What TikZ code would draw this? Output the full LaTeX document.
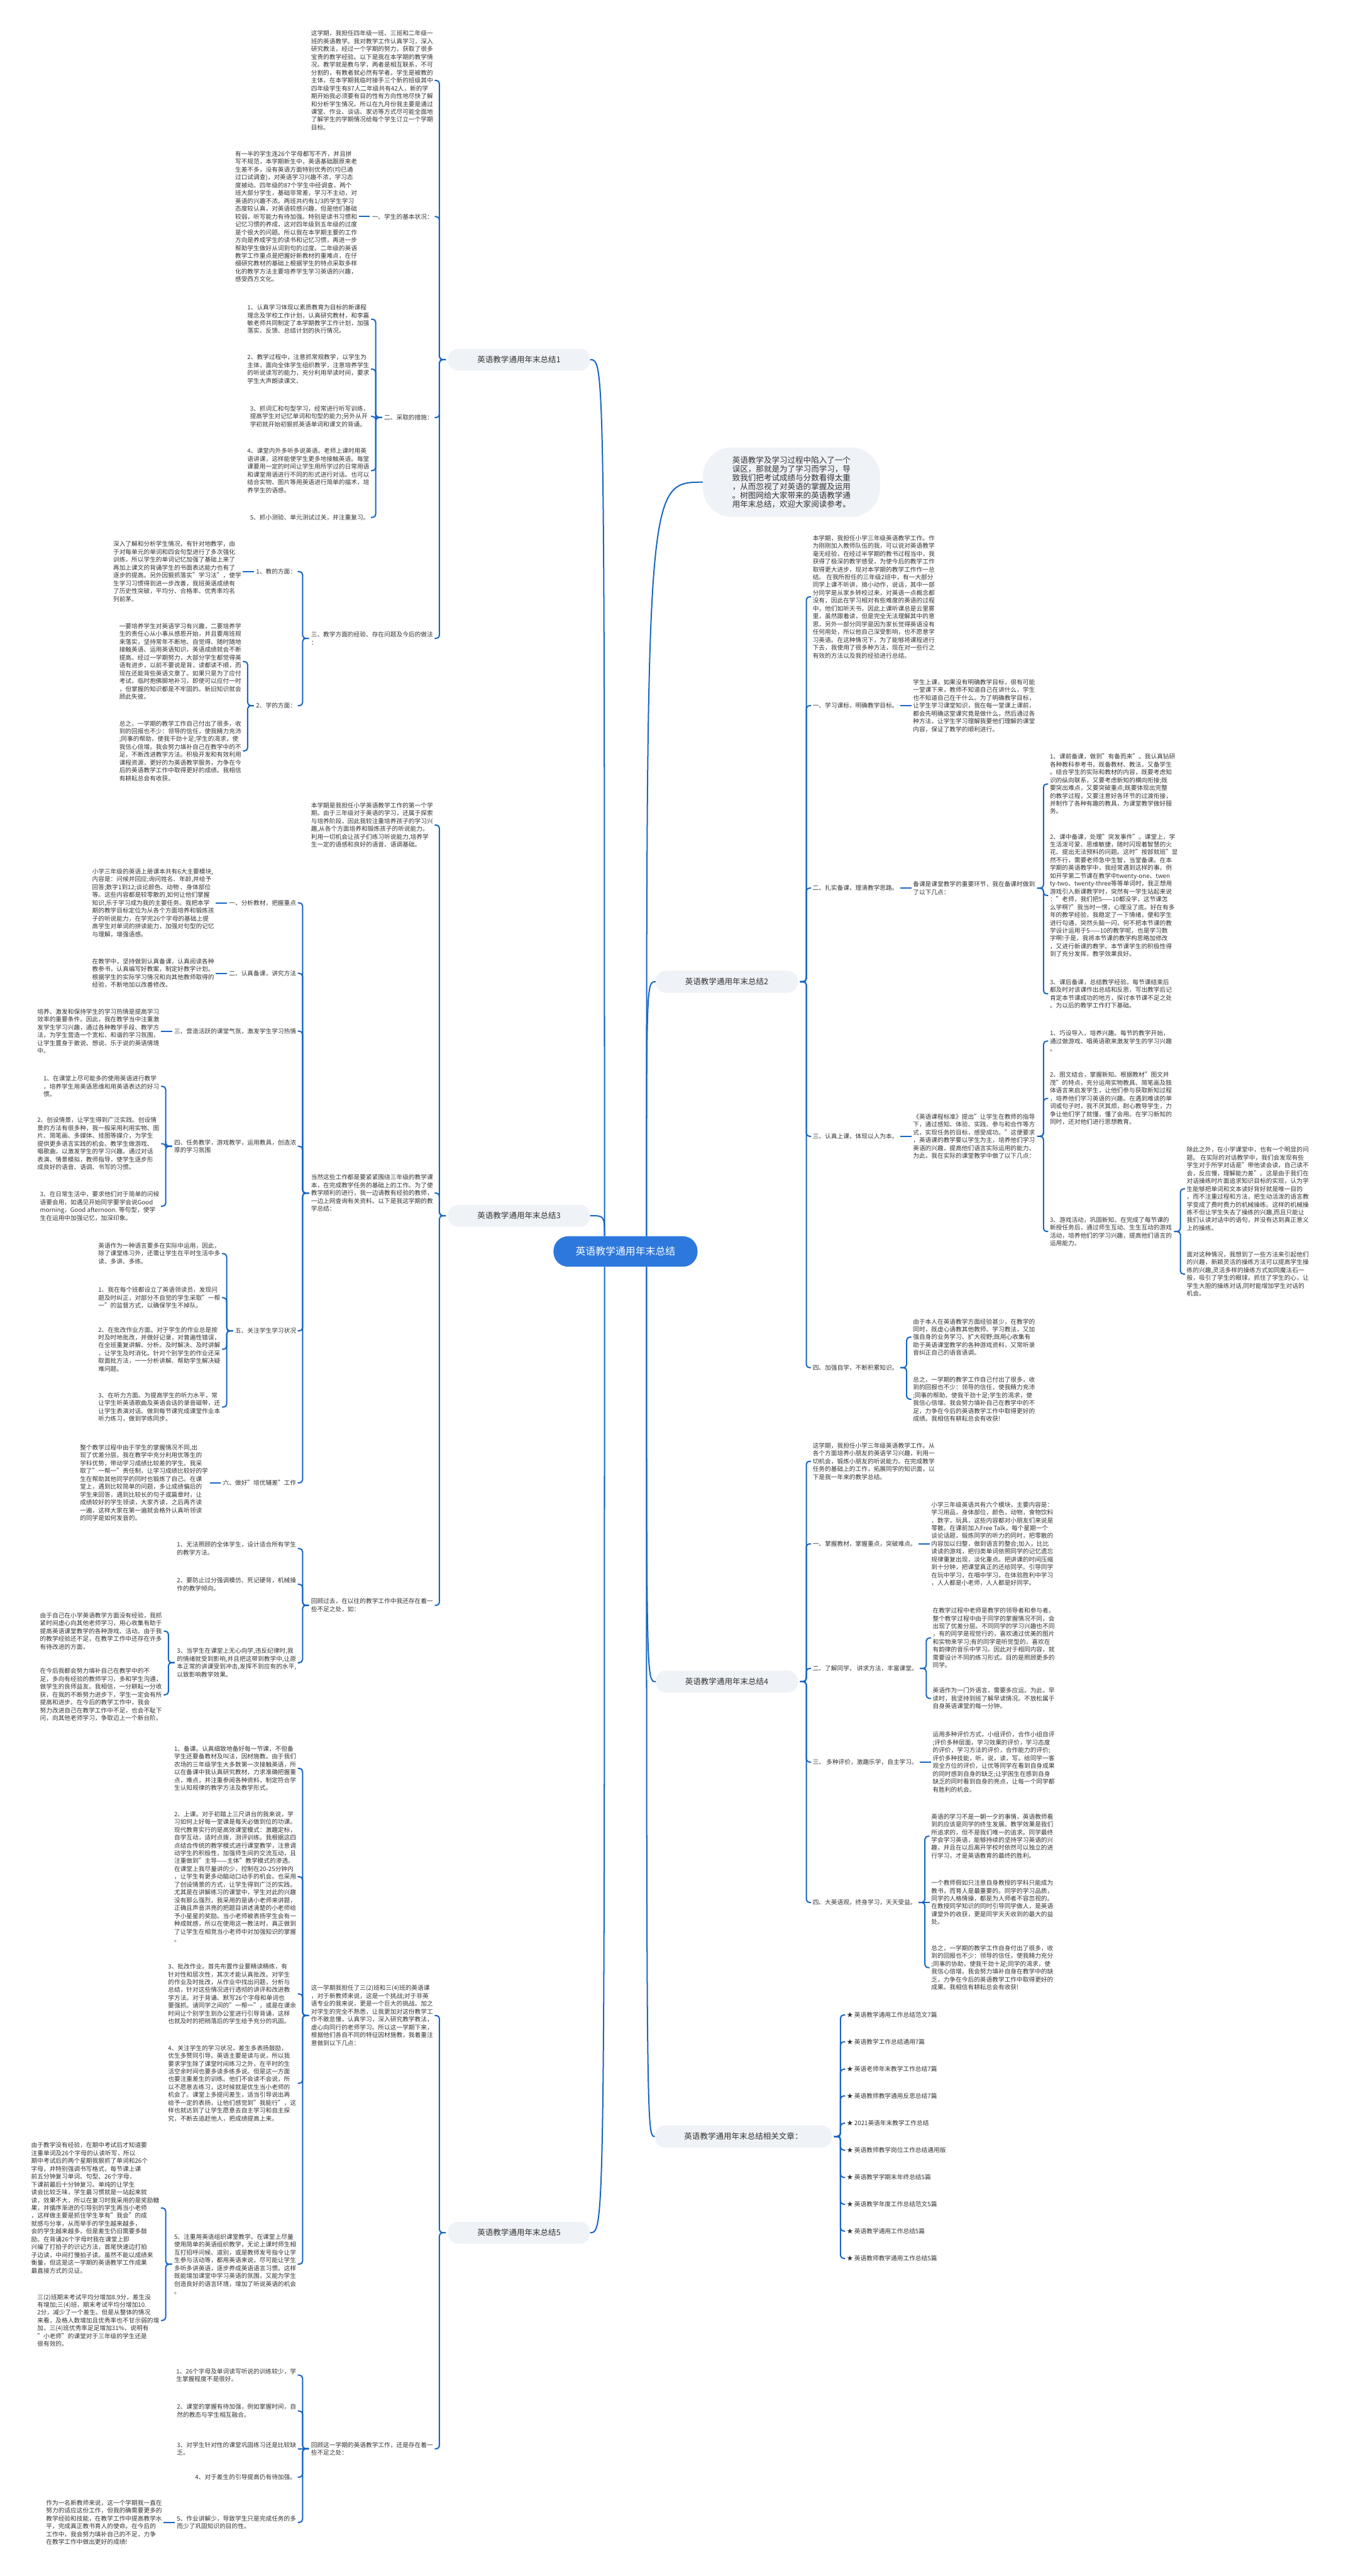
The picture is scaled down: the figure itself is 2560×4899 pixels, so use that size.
\documentclass[tikz,border=0pt]{standalone}
\usepackage{fontspec}
\setmainfont{Noto Sans CJK SC}
\definecolor{lineblue}{RGB}{24,102,196}
\definecolor{rootblue}{RGB}{45,120,220}
\definecolor{bubfill}{RGB}{239,242,246}
\definecolor{txt}{RGB}{51,51,51}
\tikzset{
 leaf/.style={font=\fontsize{11.6}{14.9}\selectfont, text=txt, align=left, inner sep=0pt},
 bub/.style={font=\fontsize{15}{17}\selectfont, text=txt, fill=bubfill, rounded corners=20pt, inner xsep=56pt, inner ysep=12pt, minimum height=42pt},
 intro/.style={font=\fontsize{15}{16.7}\selectfont, text=txt, fill=bubfill, align=left, rounded corners=55pt, inner xsep=56pt, inner ysep=17pt},
 rootbox/.style={font=\fontsize{19}{21}\selectfont, text=white, fill=rootblue, rounded corners=28pt, inner xsep=42pt, minimum height=58pt},
 conn/.style={draw=lineblue, line width=2.4pt, rounded corners=6pt},
}
% children on the left of a parent
\newcommand\Lkid[4]{\coordinate (ty) at (0,#3); \path ([xshift=-28pt]#1.west) coordinate (tx);
 \node[leaf,anchor=east] (#2) at (tx |- ty) {#4};
 \draw[conn] ([xshift=-4pt]#1.west) -- ([xshift=-16pt]#1.west) |- ([xshift=3pt]#2.east);}
\newcommand\Lone[3]{\node[leaf,anchor=east] (#2) at ([xshift=-28pt]#1.west) {#3};
 \draw[conn] ([xshift=-4pt]#1.west) -- ([xshift=3pt]#2.east);}
% children on the right of a parent
\newcommand\Rkid[4]{\coordinate (ty) at (0,#3); \path ([xshift=28pt]#1.east) coordinate (tx);
 \node[leaf,anchor=west] (#2) at (tx |- ty) {#4};
 \draw[conn] ([xshift=4pt]#1.east) -- ([xshift=16pt]#1.east) |- ([xshift=-3pt]#2.west);}
\newcommand\Rone[3]{\node[leaf,anchor=west] (#2) at ([xshift=28pt]#1.east) {#3};
 \draw[conn] ([xshift=4pt]#1.east) -- ([xshift=-3pt]#2.west);}
\begin{document}
\begin{tikzpicture}[x=1pt,y=-1pt]
\fill[white] (0,0) rectangle (2560,4899);
\useasboundingbox (0,0) rectangle (2560,4899);

% ---------- main nodes ----------
\node[rootbox] (root) at (1190,2380) {英语教学通用年末总结};
\node[bub,anchor=west] (B1) at (852,684) {英语教学通用年末总结1};
\node[bub,anchor=west] (B3) at (852,2312) {英语教学通用年末总结3};
\node[bub,anchor=west] (B5) at (852,4246) {英语教学通用年末总结5};
\node[bub,anchor=east] (B2) at (1518,1867) {英语教学通用年末总结2};
\node[bub,anchor=east] (B4) at (1518,3198) {英语教学通用年末总结4};
\node[bub,anchor=east] (rel) at (1583,4063) {英语教学通用年末总结相关文章：};
\node[intro,anchor=west] (intro) at (1337,917) {英语教学及学习过程中陷入了一个\\误区，那就是为了学习而学习，导\\致我们把考试成绩与分数看得太重\\，从而忽视了对英语的掌握及运用\\。树图网给大家带来的英语教学通\\用年末总结，欢迎大家阅读参考。};

\coordinate (rtl) at ([xshift=-40pt]root.north);
\coordinate (rtr) at ([xshift=40pt]root.north);
\coordinate (rbl) at ([xshift=-40pt]root.south);
\coordinate (rbr) at ([xshift=40pt]root.south);
\draw[conn] (rtl) .. controls (rtl |- B1.east) .. (B1.east);
\draw[conn] (rtl) .. controls (rtl |- B3.east) .. (B3.east);
\draw[conn] (rbl) .. controls (rbl |- B5.east) .. (B5.east);
\draw[conn] (rtr) .. controls (rtr |- intro.west) .. (intro.west);
\draw[conn] (rtr) .. controls (rtr |- B2.west) .. (B2.west);
\draw[conn] (rbr) .. controls (rbr |- B4.west) .. (B4.west);
\draw[conn] (rbr) .. controls (rbr |- rel.west) .. (rel.west);

% ---------- branch 1 ----------
\Lkid{B1}{b1a}{153}{这学期，我担任四年级一班、三班和二年级一\\班的英语教学。我对教学工作认真学习，深入\\研究教法，经过一个学期的努力，获取了很多\\宝贵的教学经验。以下是我在本学期的教学情\\况。教学就是教与学，两者是相互联系，不可\\分割的，有教者就必然有学者。学生是被教的\\主体，在本学期我临时接手三个新的班级其中\\四年级学生有87人二年级共有42人，新的学\\期开始我必须要有目的性有方向性地尽快了解\\和分析学生情况。所以在九月份我主要是通过\\课堂、作业、谈话、家访等方式尽可能全面地\\了解学生的学期情况给每个学生订立一个学期\\目标。}
\Lkid{B1}{b1s1}{412}{一、学生的基本状况：}
\Lone{b1s1}{b1s1p}{有一半的学生连26个字母都写不齐，并且拼\\写不规范，本学期新生中，英语基础跟原来老\\生差不多，没有英语方面特别优秀的(均已通\\过口试调查)，对英语学习兴趣不浓，学习态\\度被动。四年级的87个学生中经调查，两个\\班大部分学生，基础非常差，学习不主动，对\\英语的兴趣不浓。两班共约有1/3的学生学习\\态度较认真，对英语较感兴趣，但是他们基础\\较弱，听写能力有待加强。特别是读书习惯和\\记忆习惯的养成，这对四年级到五年级的过度\\是个很大的问题。所以我在本学期主要的工作\\方向是养成学生的读书和记忆习惯，再进一步\\帮助学生做好从词到句的过度。二年级的英语\\教学工作重点是把握好新教材的重难点，在仔\\细研究教材的基础上根据学生的特点采取多样\\化的教学方法主要培养学生学习英语的兴趣，\\感受西方文化。}
\Lkid{B1}{b1s2}{794}{二、采取的措施：}
\Lkid{b1s2}{b1i1}{607}{1、认真学习体现以素质教育为目标的新课程\\理念及学校工作计划，认真研究教材，和李嘉\\敏老师共同制定了本学期教学工作计划，加强\\落实、反馈、总结计划的执行情况。}
\Lkid{b1s2}{b1i2}{702}{2、教学过程中，注意抓常规教学，以学生为\\主体，面向全体学生组织教学，注意培养学生\\的听说读写的能力，充分利用早读时间，要求\\学生大声朗读课文、}
\Lkid{b1s2}{b1i3}{792}{3、抓词汇和句型学习，经常进行听写训练，\\提高学生对记忆单词和句型的能力;另外从开\\学初就开始初狠抓英语单词和课文的背诵。}
\Lkid{b1s2}{b1i4}{895}{4、课堂内外多听多说英语。老师上课时用英\\语讲课，这样能使学生更多地接触英语。每堂\\课要用一定的时间让学生用所学过的日常用语\\和课堂用语进行不同的形式进行对话。也可以\\结合实物、图片等用英语进行简单的描术，培\\养学生的语感。}
\Lkid{b1s2}{b1i5}{984}{5、抓小测验、单元测试过关，并注重复习。}
\Lkid{B1}{b1s3}{1214}{三、教学方面的经验、存在问题及今后的做法\\：}
\Lkid{b1s3}{b1t1}{1087}{1、教的方面：}
\Lone{b1t1}{b1t1p}{深入了解和分析学生情况，有针对地教学，由\\于对每单元的单词和四会句型进行了多次强化\\训练，所以学生的单词记忆加强了基础上来了\\再加上课文的背诵学生的书面表达能力也有了\\逐步的提高。另外因狠抓落实"学习法"，使学\\生学习习惯得到进一步改善，我班英语成绩有\\了历史性突破，平均分、合格率、优秀率均名\\列前茅。}
\Lkid{b1s3}{b1t2}{1342}{2、学的方面：}
\Lkid{b1t2}{b1t2a}{1258}{一要培养学生对英语学习有兴趣，二要培养学\\生的责任心从小事从感恩开始，并且要用班规\\来落实，坚持常年不断地、自觉得、随时随地\\接触英语、运用英语知识，英语成绩就会不断\\提高。经过一学期努力，大部分学生都觉得英\\语有进步，以前不要说是背，读都读不顺，而\\现在还能背些英语文章了。如果只是为了应付\\考试，临时抱佛脚地补习，即使可以应付一时\\，但掌握的知识都是不牢固的。新旧知识就会\\顾此失彼。}
\Lkid{b1t2}{b1t2b}{1428}{总之，一学期的教学工作自己付出了很多，收\\到的回报也不少：领导的信任，使我精力充沛\\;同事的帮助，使我干劲十足;学生的渴求，使\\我信心倍增。我会努力填补自己在教学中的不\\足，不断改进教学方法。积极开发和有效利用\\课程资源，更好的为英语教学服务，力争在今\\后的英语教学工作中取得更好的成绩。我相信\\有耕耘总会有收获。}

% ---------- branch 3 ----------
\Lkid{B3}{b3a}{1569}{本学期是我担任小学英语教学工作的第一个学\\期。由于三年级对于英语的学习，还属于探索\\与培养阶段，因此我较注重培养孩子的学习兴\\趣,从各个方面培养和锻炼孩子的听说能力。\\利用一切机会让孩子们练习听说能力,培养学\\生一定的语感和良好的语音、语调基础。}
\Lkid{B3}{b3b}{2269}{当然这些工作都是要紧紧围绕三年级的教学课\\本，在完成教学任务的基础上的工作。为了使\\教学顺利的进行，我一边请教有经验的教师，\\一边上网查询有关资料。以下是我这学期的教\\学总结：}
\Lkid{b3b}{b3s1}{1717}{一、分析教材，把握重点}
\Lone{b3s1}{b3s1p}{小学三年级的英语上册课本共有6大主要模块,\\内容是：问候并回应;询问姓名、年龄,并给予\\回答;数字1到12;谈论颜色、动物 、身体部位\\等。这些内容都是较零散的,如何让他们掌握\\知识,乐于学习成为我的主要任务。我把本学\\期的教学目标定位为从各个方面培养和锻炼孩\\子的听说能力，在学完26个字母的基础上提\\高学生对单词的拼读能力，加强对句型的记忆\\与理解，增强语感。}
\Lkid{b3b}{b3s2}{1851}{二、认真备课，讲究方法}
\Lone{b3s2}{b3s2p}{在教学中，坚持做到认真备课，认真阅读各种\\教参书，认真编写好教案，制定好教学计划。\\根据学生的实际学习情况和向其他教师取得的\\经验，不断地加以改善修改。}
\Lkid{b3b}{b3s3}{1961}{三、营造活跃的课堂气氛，激发学生学习热情}
\Lone{b3s3}{b3s3p}{培养、激发和保持学生的学习热情是提高学习\\效率的重要条件。因此，我在教学当中注重激\\发学生学习兴趣，通过各种教学手段、教学方\\法，为学生营造一个宽松、和谐的学习氛围，\\让学生置身于敢说、想说、乐于说的英语情境\\中。}
\Lkid{b3b}{b3s4}{2180}{四、任务教学，游戏教学，运用教具，创造浓\\厚的学习氛围}
\Lkid{b3s4}{b3s4a}{2066}{1、在课堂上尽可能多的使用英语进行教学\\，培养学生用英语思维和用英语表达的好习\\惯。}
\Lkid{b3s4}{b3s4b}{2175}{2、创设情景，让学生得到广泛实践。创设情\\景的方法有很多种，我一般采用利用实物、图\\片、简笔画、多媒体、挂图等媒介，为学生\\提供更多语言实践的机会。教学生做游戏、\\唱歌曲，以激发学生的学习兴趣。通过对话\\表演、情景模拟，教师指导，使学生逐步形\\成良好的语音、语调、书写的习惯。}
\Lkid{b3s4}{b3s4c}{2294}{3、在日常生活中，要求他们对于简单的问候\\语要会用，如遇见开始同学要学会说Good\\morning，Good afternoon. 等句型，使学\\生在运用中加强记忆，加深印象。}
\Lkid{b3b}{b3s5}{2531}{五、关注学生学习状况}
\Lkid{b3s5}{b3s5a}{2384}{英语作为一种语言要多在实际中运用，因此，\\除了课堂练习外，还需让学生在平时生活中多\\读、多讲、多练。}
\Lkid{b3s5}{b3s5b}{2468}{1、我在每个班都设立了英语领读员，发现问\\题及时纠正，对部分不自觉的学生采取"一帮\\一"的监督方式，以确保学生不掉队。}
\Lkid{b3s5}{b3s5c}{2566}{2、在批改作业方面。对于学生的作业总是按\\时及时地批改，并做好记录，对普遍性错误，\\在全班重复讲解、分析。及时解决、及时讲解\\，让学生及时消化。针对个别学生的作业还采\\取面批方法，一一分析讲解、帮助学生解决疑\\难问题。}
\Lkid{b3s5}{b3s5d}{2676}{3、在听力方面。为提高学生的听力水平，常\\让学生听英语歌曲及英语会话的录音磁带，还\\让学生表演对话。做到每节课完成课堂作业本\\听力练习，做到学练同步。}
\Lkid{b3b}{b3s6}{2820}{六、做好"培优辅差"工作}
\Lone{b3s6}{b3s6p}{整个教学过程中由于学生的掌握情况不同,出\\现了优差分层。我在教学中充分利用优等生的\\学科优势，带动学习成绩比较差的学生。我采\\取了"一帮一"责任制，让学习成绩比较好的学\\生在帮助其他同学的同时也锻炼了自己。在课\\堂上，遇到比较简单的问题，多让成绩偏后的\\学生来回答，遇到比较长的句子或篇章时，让\\成绩较好的学生领读，大家齐读，之后再齐读\\一遍，这样大家在第一遍就会格外认真听领读\\的同学是如何发音的。}
\Lkid{B3}{b3c}{3053}{回顾过去，在以往的教学工作中我还存在着一\\些不足之处，如：}
\Lkid{b3c}{b3c1}{2945}{1、无法照顾的全体学生，设计适合所有学生\\的教学方法。}
\Lkid{b3c}{b3c2}{3013}{2、要防止过分强调模仿、死记硬背，机械操\\作的教学倾向。}
\Lkid{b3c}{b3c3}{3162}{3、当学生在课堂上无心向学,违反纪律时,我\\的情绪就受到影响,并且把这带到教学中,让原\\本正常的讲课受到冲击,发挥不到应有的水平,\\以致影响教学效果。}
\Lkid{b3c3}{b3c3a}{3102}{由于自己在小学英语教学方面没有经验，我抓\\紧时间虚心向其他老师学习，用心收集有助于\\提高英语课堂教学的各种游戏、活动。由于我\\的教学经验还不足，在教学工作中还存在许多\\有待改进的方面，}
\Lkid{b3c3}{b3c3b}{3223}{在今后我都会努力填补自己在教学中的不\\足，多向有经验的教师学习，多和学生沟通，\\做学生的良师益友。我相信，一分耕耘一分收\\获，在我的不断努力进步下，学生一定会有所\\提高和进步。在今后的教学工作中，我会\\努力改进自己在教学工作中不足，也会不耻下\\问，向其他老师学习，争取迈上一个新台阶。}

% ---------- branch 5 ----------
\Lkid{B5}{b5a}{3833}{这一学期我担任了三(2)班和三(4)班的英语课\\，对于新教师来说，这是一个挑战;对于非英\\语专业的我来说，更是一个巨大的挑战。加之\\对学生的完全不熟悉，让我更加对这份教学工\\作不敢怠慢，认真学习，深入研究教学教法，\\虚心向同行的老师学习。所以这一学期下来，\\根据他们各自不同的特征因材施教，我着重注\\意做到以下几点：}
\Lkid{b5a}{b5a1}{3363}{1、备课。认真细致地备好每一节课，不但备\\学生还要备教材及叫法，因材施教。由于我们\\农场的三年级学生大多数第一次接触英语，所\\以在备课中我认真研究教材，力求准确把握重\\点，难点，并注重参阅各种资料，制定符合学\\生认知规律的教学方法及教学形式。}
\Lkid{b5a}{b5a2}{3569}{2、上课。对于初踏上三尺讲台的我来说，学\\习如何上好每一堂课是每天必做到位的功课。\\现代教育实行的是高效课堂模式：激趣定标，\\自学互动，适时点拨，测评训练。我根据这四\\点结合传统的教学模式进行课堂教学，注意调\\动学生的积极性，加强师生间的交流互动，且\\注重做到"主导——主体"教学模式的渗透。\\在课堂上我尽量讲的少，控制在20-25分钟内\\，让学生有更多动脑动口动手的机会。也采用\\了创设情景的方式，让学生得到广泛的实践。\\尤其是在讲解练习的课堂中，学生对此的兴趣\\没有那么强烈，我采用的是请小老师来讲题，\\正确且声音洪亮的把题目讲述清楚的小老师给\\予小星星的奖励。当小老师被表扬学生会有一\\种成就感，所以在使用这一教法时，真正做到\\了让学生在相竞当小老师中对加强知识的掌握\\。}
\Lkid{b5a}{b5a3}{3792}{3、批改作业。首先布置作业要精读精练，有\\针对性和层次性，其次才能认真批改。对学生\\的作业及时批改，从作业中找出问题，分析与\\总结，针对这些情况进行透彻的讲评和改进教\\学方法。对于背诵、默写26个字母和单词也\\要强抓。请同学之间的"一帮一"，或是在课余\\时间让个别学生到办公室进行引导背诵，这样\\也就及时的把稍落后的学生给予充分的巩固。}
\Lkid{b5a}{b5a4}{3962}{4、关注学生的学习状况，差生多表扬鼓励，\\优生多赞同引导。英语主要是读与说，所以我\\要求学生除了课堂时间练习之外，在平时的生\\活空余时间也要多读多练多说。但是这一方面\\也要注重差生的训练。他们不会读不会说，所\\以不愿意去练习，这时候就是优生当小老师的\\机会了。课堂上多提问差生，适当引导说出再\\给予一定的表扬，让他们感觉到"我能行"，这\\样也就达到了让学生愿意去自主学习和自主探\\究，不断去追赶他人，把成绩提高上来。}
\Lkid{b5a}{b5a5}{4306}{5、注重用英语组织课堂教学。在课堂上尽量\\使用简单的英语组织教学，无论上课时师生相\\互打招呼问候、道别，或是教师发号指令让学\\生参与活动等，都用英语来说，尽可能让学生\\多听多讲英语，逐步养成英语语言习惯。这样\\既能增加课堂中学习英语的氛围，又能为学生\\创造良好的语言环境，增加了听说英语的机会\\。}
\Lkid{b5a5}{b5r1}{4199}{由于教学没有经验，在期中考试后才知道要\\注重单词及26个字母的认读听写，所以\\期中考试后的两个星期我狠抓了单词和26个\\字母，并特别强调书写格式，每节课上课\\前五分钟复习单词、句型、26个字母，\\下课前最后十分钟复习。单纯的让学生\\读会比较乏味，学生最习惯就是一站起来就\\读，效果不大，所以在复习时我采用的是奖励糖\\果，并循序渐进的引导别的学生再当小老师\\，这样做主要是抓住学生享有"我会"的成\\就感与分享，从而举手的学生越来越多，\\会的学生越来越多。但是差生仍旧需要多鼓\\励。在背诵26个字母时我在课堂上即\\兴编了打拍子的识记方法，首尾快速边打拍\\子边读，中间打慢拍子读。虽然不能以成绩来\\衡量，但这是这一学期的英语教学工作成果\\最直接方式的见证。}
\Lkid{b5a5}{b5r2}{4413}{三(2)班期末考试平均分增加8.9分，差生没\\有增加;三(4)班，期末考试平均分增加10.\\2分，减少了一个差生。但是从整体的情况\\来看，及格人数增加且优秀率也不甘示弱的增\\加，三(4)班优秀率足足增加31\%，说明有\\"小老师"的课堂对于三年级的学生还是\\很有效的。}
\Lkid{B5}{b5b}{4657}{回顾这一学期的英语教学工作，还是存在着一\\些不足之处：}
\Lkid{b5b}{b5b1}{4517}{1、26个字母及单词读写听说的训练较少，学\\生掌握程度不是很好。}
\Lkid{b5b}{b5b2}{4585}{2、课堂的掌握有待加强，例如掌握时间，自\\然的教态与学生相互融合。}
\Lone{b5b}{b5b3}{3、对学生针对性的课堂巩固练习还是比较缺\\乏。}
\Lkid{b5b}{b5b4}{4711}{4、对于差生的引导提高仍有待加强。}
\Lkid{b5b}{b5b5}{4797}{5、作业讲解少，导致学生只是完成任务的多\\而少了巩固知识的目的性。}
\Lone{b5b5}{b5b5p}{作为一名新教师来说，这一个学期我一直在\\努力的适应这份工作，但我的确需要更多的\\教学经验和技能，在教学工作中提高教学水\\平，完成真正教书育人的使命。在今后的\\工作中，我会努力填补自己的不足，力争\\在教学工作中做出更好的成绩!}

% ---------- branch 2 ----------
\Rkid{B2}{b2a}{1135}{本学期，我担任小学三年级英语教学工作。作\\为刚刚加入教师队伍的我，可以说对英语教学\\毫无经验，在经过半学期的教书过程当中，我\\获得了极深的教学感受，为使今后的教学工作\\取得更大进步，现对本学期的教学工作作一总\\结。 在我所担任的三年级2班中，有一大部分\\同学上课不听讲，搞小动作，说话，其中一部\\分同学是从家乡转校过来，对英语一点概念都\\没有，因此在学习相对有些难度的英语的过程\\中，他们如听天书，因此上课听课总是云里雾\\里，虽然跟着读，但是完全无法理解其中的意\\思，另外一部分同学是因为家长觉得英语没有\\任何用处，所以他自己深受影响，也不愿意学\\习英语。在这种情况下，为了能够将课程进行\\下去，我使用了很多种方法，现在对一些行之\\有效的方法以及我的经验进行总结。}
\Rkid{B2}{b2s1}{1342}{一、学习课标，明确教学目标。}
\Rone{b2s1}{b2s1p}{学生上课，如果没有明确教学目标，很有可能\\一堂课下来，教师不知道自己在讲什么，学生\\也不知道自己在干什么。为了明确教学目标，\\让学生学习课堂知识，我在每一堂课上课前，\\都会先明确这堂课究竟是做什么，然后通过各\\种方法，让学生学习理解我要他们理解的课堂\\内容，保证了教学的顺利进行。}
\Rkid{B2}{b2s2}{1689}{二、扎实备课，理清教学思路。}
\Rone{b2s2}{b2s2p}{备课是课堂教学的重要环节，我在备课时做到\\了以下几点：}
\Rkid{b2s2p}{b2c1}{1491}{1、课前备课，做到"有备而来"。我认真钻研\\各种教科参考书，既备教材、教法，又备学生\\。结合学生的实际和教材的内容，既要考虑知\\识的纵向联系，又要考虑新知的横向衔接;既\\要突出难点，又要突破重点;既要体现出完整\\的教学过程，又要注意好各环节的过渡衔接，\\并制作了各种有趣的教具，为课堂教学做好服\\务。}
\Rkid{b2s2p}{b2c2}{1703}{2、课中备课，处理"突发事件"。课堂上，学\\生活泼可爱、思维敏捷，随时闪现着智慧的火\\花、提出无法预料的问题。这时"按部就班"显\\然不行，需要老师急中生智，当堂备课。在本\\学期的英语教学中，我经常遇到这样的事。例\\如开学第二节课在教学中twenty-one、twen\\ty-two、twenty-three等等单词时，我正想用\\游戏引入新课教学时，突然有一学生站起来说\\："老师，我们把5——10都没学，这节课怎\\么学啊?"我当时一愣，心理没了底。好在有多\\年的教学经验，我稳定了一下情绪，便和学生\\进行勾通，突然头脑一闪，何不把本节课的教\\学设计运用于5——10的教学呢，也是学习数\\字啊!于是，我将本节课的教学构思略加修改\\，又进行新课的教学。本节课学生的积极性得\\到了充分发挥，教学效果良好。}
\Rkid{b2s2p}{b2c3}{1890}{3、课后备课，总结教学经验。每节课结束后\\都及时对该课作出总结和反思，写出教学后记\\肯定本节课成功的地方，探讨本节课不足之处\\。为以后的教学工作打下基础。}
\Rkid{B2}{b2s3}{2161}{三、认真上课，体现以人为本。}
\Rone{b2s3}{b2s3p}{《英语课程标准》提出"让学生在教师的指导\\下，通过感知、体验、实践、参与和合作等方\\式，实现任务的目标，感受成功。"这便要求\\，英语课的教学要以学生为主，培养他们学习\\英语的兴趣，提高他们语言实际运用的能力。\\为此，我在实际的课堂教学中做了以下几点：}
\Rkid{b2s3p}{b2d1}{1980}{1、巧设导入，培养兴趣。每节的教学开始，\\通过做游戏、唱英语歌来激发学生的学习兴趣\\。}
\Rkid{b2s3p}{b2d2}{2089}{2、图文结合，掌握新知。根据教材"图文并\\茂"的特点，充分运用实物教具、简笔画及肢\\体语言来启发学生，让他们参与获取新知过程\\，培养他们学习英语的兴趣。在遇到难读的单\\词或句子时，我不厌其烦，耐心教导学生，力\\争让他们学了就懂，懂了会用。在学习新知的\\同时，还对他们进行思想教育。}
\Rkid{b2s3p}{b2d3}{2342}{3、游戏活动，巩固新知。在完成了每节课的\\新授任务后，通过师生互动、生生互动的游戏\\活动，培养他们的学习兴趣，提高他们语言的\\运用能力。}
\Rkid{b2d3}{b2d3a}{2261}{除此之外，在小学课堂中，也有一个明显的问\\题。 在实际的对话教学中，我们会发现有些\\学生对于所学对话是"带他读会读，自己读不\\会，反应慢，理解能力差"。这是由于我们在\\对话操练时片面追求知识目标的实现，认为学\\生能够把单词和文本读好背好就是唯一目的\\，而不注重过程和方法，把生动活泼的语言教\\学变成了费时费力的机械操练。这样的机械操\\练不但让学生失去了操练的兴趣,而且只能让\\我们认读对话中的语句，并没有达到真正意义\\上的操练。}
\Rkid{b2d3}{b2d3b}{2423}{面对这种情况，我想到了一些方法来引起他们\\的兴趣，新颖灵活的操练方法可以提高学生操\\练的兴趣,灵活多样的操练方式如同魔法石一\\般，吸引了学生的眼球，抓住了学生的心，让\\学生大胆的操练对话,同时能增加学生对话的\\机会。}
\Rkid{B2}{b2s4}{2601}{四、加强自学，不断积累知识。}
\Rkid{b2s4}{b2e1}{2543}{由于本人在英语教学方面经验甚少，在教学的\\同时，既虚心请教其他教师、学习教法，又加\\强自身的业务学习、扩大视野;既用心收集有\\助于英语课堂教学的各种游戏资料，又常听录\\音纠正自己的语音语调。}
\Rkid{b2s4}{b2e2}{2661}{总之，一学期的教学工作自己付出了很多，收\\到的回报也不少：领导的信任，使我精力充沛\\;同事的帮助，使我干劲十足;学生的渴求，使\\我信心倍增。我会努力填补自己在教学中的不\\足，力争在今后的英语教学工作中取得更好的\\成绩。我相信有耕耘总会有收获!}

% ---------- branch 4 ----------
\Rkid{B4}{b4a}{2779}{这学期，我担任小学三年级英语教学工作。从\\各个方面培养小朋友的英语学习兴趣，利用一\\切机会，锻炼小朋友的听说能力。在完成教学\\任务的基础上的工作，拓展同学的知识面，以\\下是我一年来的教学总结。}
\Rkid{B4}{b4s1}{2936}{一、掌握教材，掌握重点，突破难点。}
\Rone{b4s1}{b4s1p}{小学三年级英语共有六个模块，主要内容是：\\学习用品，身体部位，颜色，动物，食物饮料\\，数字，玩具，这些内容都对小朋友们来说是\\零散。在课前加入Free Talk，每个星期一个\\谈论话题，锻炼同学的听力的同时，把零散的\\内容加以归整，做到语言的整合;加入，比比\\读读的游戏，把归类单词依照同学的记忆遗忘\\规律重复出现，淡化重点。把讲课的时间压缩\\到十分钟，把课堂真正的还给同学。引导同学\\在玩中学习，在唱中学习，在体验胜利中学习\\，人人都是小老师，人人都是好同学。}
\Rkid{B4}{b4s2}{3173}{二、了解同学， 讲求方法，丰富课堂。}
\Rkid{b4s2}{b4c1}{3115}{在教学过程中老师是教学的领导者和参与者。\\整个教学过程中由于同学的掌握情况不同，会\\出现了优差分层。不同同学的学习兴趣也不同\\，有的同学是视觉行的，喜欢通过优美的图片\\和实物来学习;有的同学是听觉型的，喜欢在\\有韵律的音乐中学习。因此对于相同内容，就\\需要设计不同的练习形式。目的是照顾更多的\\同学。}
\Rkid{b4s2}{b4c2}{3230}{英语作为一门外语言，需要多应运。为此，早\\读时，我坚持到班了解早读情况。不放松属于\\自身英语课堂的每一分钟。}
\Rkid{B4}{b4s3}{3351}{三、 多种评价，激趣乐学，自主学习。}
\Rone{b4s3}{b4s3p}{运用多种评价方式，小组评价，合作小组自评\\;评价多种层面，学习效果的评价，学习态度\\的评价，学习方法的评价，合作能力的评价;\\评价多种技能，听，说，读，写。给同学一客\\观全方位的评价，让优等同学在看到自身成果\\的同时感到自身的缺乏;让学困生在感到自身\\缺乏的同时看到自身的亮点，让每一个同学都\\有胜利的机会。}
\Rkid{B4}{b4s4}{3618}{四、大英语观，终身学习，天天受益。}
\Rkid{b4s4}{b4e1}{3492}{英语的学习不是一朝一夕的事情，英语教师看\\到的应该是同学的终生发展。教学效果是我们\\所追求的，但不是我们唯一的追求。同学最终\\学会学习英语，能够持续的坚持学习英语的兴\\趣，并且在以后离开学校时依然可以独立的进\\行学习，才是英语教育的最终的胜利。}
\Rone{b4s4}{b4e2}{一个教师假如只注意自身教授的学科只能成为\\教书，而育人是最重要的。同学的学习品质，\\同学的人格情操，都是为人师者不容忽视的。\\在教授同学知识的同时引导同学做人，是英语\\课堂外的收获，更是同学天天收到的最大的益\\处。}
\Rkid{b4s4}{b4e3}{3742}{总之，一学期的教学工作自身付出了很多，收\\到的回报也不少：领导的信任，使我精力充分\\;同事的协助，使我干劲十足;同学的渴求，使\\我信心倍增。我会努力填补自身在教学中的缺\\乏，力争在今后的英语教学工作中取得更好的\\成果。我相信有耕耘总会有收获!}

% ---------- related articles ----------
\Rkid{rel}{r1}{3832}{★ 英语教学通用工作总结范文7篇}
\Rkid{rel}{r2}{3883}{★ 英语教学工作总结通用7篇}
\Rkid{rel}{r3}{3935}{★ 英语老师年末教学工作总结7篇}
\Rkid{rel}{r4}{3986}{★ 英语教师教学通用反思总结7篇}
\Rkid{rel}{r5}{4038}{★ 2021英语年末教学工作总结}
\Rkid{rel}{r6}{4089}{★ 英语教师教学岗位工作总结通用版}
\Rkid{rel}{r7}{4141}{★ 英语教学学期末年终总结5篇}
\Rkid{rel}{r8}{4192}{★ 英语教学年度工作总结范文5篇}
\Rkid{rel}{r9}{4243}{★ 英语教学通用工作总结5篇}
\Rkid{rel}{r10}{4295}{★ 英语教师教学通用工作总结5篇}
\end{tikzpicture}
\end{document}
